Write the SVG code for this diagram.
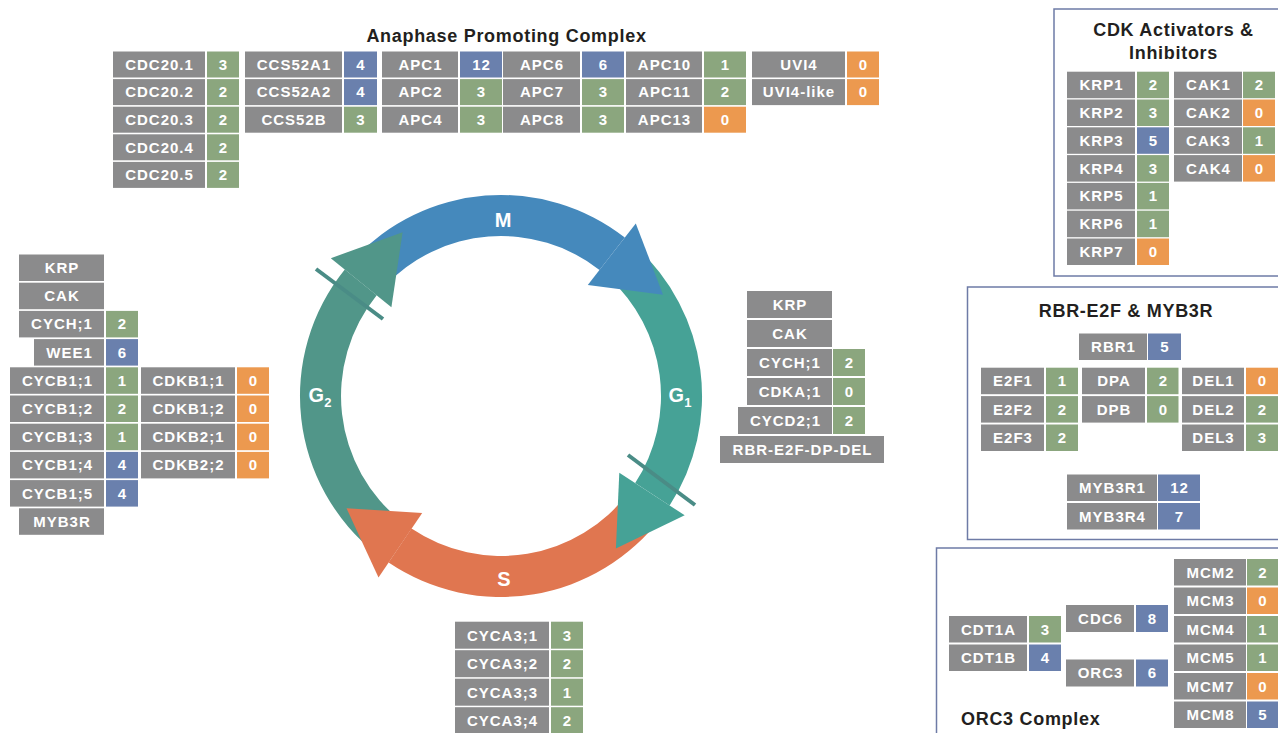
<svg xmlns="http://www.w3.org/2000/svg" width="1278" height="733" viewBox="0 0 1278 733">
<style>
.g{fill:#8b8b8c}.gn{fill:#8ba67e}.bl{fill:#6a80ad}.or{fill:#ec994f}
.t{font-family:"Liberation Sans",Arial,sans-serif;font-weight:bold;font-size:15px;letter-spacing:1px;fill:#fff;text-anchor:middle}
.h{font-family:"Liberation Sans",Arial,sans-serif;font-weight:bold;font-size:18px;letter-spacing:0.7px;fill:#231f20;text-anchor:middle}
.box{fill:none;stroke:#6e7ba6;stroke-width:1.5}
.ph{font-family:"Liberation Sans",Arial,sans-serif;font-weight:bold;font-size:20px;fill:#fff;text-anchor:middle}
.tick{stroke:#4a8c86;stroke-width:4}
</style>
<rect width="1278" height="733" fill="#fff"/>

<g id="cycle">
  <path d="M354.0,258.9 A201,201 0 0 1 624.8,237.6 L599.5,269.9 A160,160 0 0 0 384.0,286.9 Z" fill="#4589bc"/>
  <path d="M635.5,246.6 A201,201 0 0 1 669.6,505.5 L635.2,483.1 A160,160 0 0 0 608.1,277.1 Z" fill="#46a296"/>
  <path d="M661.5,517.0 A201,201 0 0 1 388.6,562.6 L411.5,528.6 A160,160 0 0 0 628.8,492.3 Z" fill="#e07650"/>
  <path d="M377.2,554.4 A201,201 0 0 1 344.8,269.5 L376.7,295.3 A160,160 0 0 0 402.5,522.1 Z" fill="#519689"/>
  <polygon points="587.8,284.9 635.8,223.4 663.0,294.8" fill="#4589bc"/>
  <polygon points="619.3,472.8 684.7,515.3 615.9,548.5" fill="#46a296"/>
  <polygon points="422.2,512.9 378.5,577.6 346.5,508.3" fill="#e07650"/>
  <polygon points="391.4,307.3 330.8,258.2 402.6,232.3" fill="#519689"/>
  <line class="tick" x1="628" y1="455" x2="695" y2="505"/>
  <line class="tick" x1="316" y1="269" x2="383" y2="319"/>
  <text class="ph" x="503" y="227">M</text>
  <text class="ph" x="504" y="586">S</text>
  <text class="ph" x="680" y="402">G<tspan font-size="13" dy="5">1</tspan></text>
  <text class="ph" x="320" y="402">G<tspan font-size="13" dy="5">2</tspan></text>
</g>

<g id="apc">
  <text class="h" x="506.5" y="41.5">Anaphase Promoting Complex</text>
  <g id="cdc20-1"><rect class="g" x="113" y="51.5" width="92" height="26"/><text class="t" x="159.5" y="69.8">CDC20.1</text><rect class="gn" x="207" y="51.5" width="32" height="26"/><text class="t" x="223.5" y="69.8">3</text></g>
  <g id="cdc20-2"><rect class="g" x="113" y="79.1" width="92" height="26"/><text class="t" x="159.5" y="97.4">CDC20.2</text><rect class="gn" x="207" y="79.1" width="32" height="26"/><text class="t" x="223.5" y="97.4">2</text></g>
  <g id="cdc20-3"><rect class="g" x="113" y="106.7" width="92" height="26"/><text class="t" x="159.5" y="125">CDC20.3</text><rect class="gn" x="207" y="106.7" width="32" height="26"/><text class="t" x="223.5" y="125">2</text></g>
  <g id="cdc20-4"><rect class="g" x="113" y="134.3" width="92" height="26"/><text class="t" x="159.5" y="152.6">CDC20.4</text><rect class="gn" x="207" y="134.3" width="32" height="26"/><text class="t" x="223.5" y="152.6">2</text></g>
  <g id="cdc20-5"><rect class="g" x="113" y="161.9" width="92" height="26"/><text class="t" x="159.5" y="180.2">CDC20.5</text><rect class="gn" x="207" y="161.9" width="32" height="26"/><text class="t" x="223.5" y="180.2">2</text></g>

  <g id="ccs52a1"><rect class="g" x="245" y="51.5" width="97" height="26"/><text class="t" x="294" y="69.8">CCS52A1</text><rect class="bl" x="344" y="51.5" width="33" height="26"/><text class="t" x="361" y="69.8">4</text></g>
  <g id="ccs52a2"><rect class="g" x="245" y="79.1" width="97" height="26"/><text class="t" x="294" y="97.4">CCS52A2</text><rect class="bl" x="344" y="79.1" width="33" height="26"/><text class="t" x="361" y="97.4">4</text></g>
  <g id="ccs52b"><rect class="g" x="245" y="106.7" width="97" height="26"/><text class="t" x="294" y="125">CCS52B</text><rect class="gn" x="344" y="106.7" width="33" height="26"/><text class="t" x="361" y="125">3</text></g>

  <g id="apc1"><rect class="g" x="382" y="51.5" width="76" height="26"/><text class="t" x="420.5" y="69.8">APC1</text><rect class="bl" x="460" y="51.5" width="42" height="26"/><text class="t" x="481.5" y="69.8">12</text></g>
  <g id="apc2"><rect class="g" x="382" y="79.1" width="76" height="26"/><text class="t" x="420.5" y="97.4">APC2</text><rect class="gn" x="460" y="79.1" width="42" height="26"/><text class="t" x="481.5" y="97.4">3</text></g>
  <g id="apc4"><rect class="g" x="382" y="106.7" width="76" height="26"/><text class="t" x="420.5" y="125">APC4</text><rect class="gn" x="460" y="106.7" width="42" height="26"/><text class="t" x="481.5" y="125">3</text></g>

  <g id="apc6"><rect class="g" x="503" y="51.5" width="77" height="26"/><text class="t" x="542" y="69.8">APC6</text><rect class="bl" x="582" y="51.5" width="42" height="26"/><text class="t" x="603.5" y="69.8">6</text></g>
  <g id="apc7"><rect class="g" x="503" y="79.1" width="77" height="26"/><text class="t" x="542" y="97.4">APC7</text><rect class="gn" x="582" y="79.1" width="42" height="26"/><text class="t" x="603.5" y="97.4">3</text></g>
  <g id="apc8"><rect class="g" x="503" y="106.7" width="77" height="26"/><text class="t" x="542" y="125">APC8</text><rect class="gn" x="582" y="106.7" width="42" height="26"/><text class="t" x="603.5" y="125">3</text></g>

  <g id="apc10"><rect class="g" x="626" y="51.5" width="76" height="26"/><text class="t" x="664.5" y="69.8">APC10</text><rect class="gn" x="704" y="51.5" width="42" height="26"/><text class="t" x="725.5" y="69.8">1</text></g>
  <g id="apc11"><rect class="g" x="626" y="79.1" width="76" height="26"/><text class="t" x="664.5" y="97.4">APC11</text><rect class="gn" x="704" y="79.1" width="42" height="26"/><text class="t" x="725.5" y="97.4">2</text></g>
  <g id="apc13"><rect class="g" x="626" y="106.7" width="76" height="26"/><text class="t" x="664.5" y="125">APC13</text><rect class="or" x="704" y="106.7" width="42" height="26"/><text class="t" x="725.5" y="125">0</text></g>

  <g id="uvi4"><rect class="g" x="752" y="51.5" width="93" height="26"/><text class="t" x="799" y="69.8">UVI4</text><rect class="or" x="847" y="51.5" width="32" height="26"/><text class="t" x="863.5" y="69.8">0</text></g>
  <g id="uvi4-like"><rect class="g" x="752" y="79.1" width="93" height="26"/><text class="t" x="799" y="97.4">UVI4-like</text><rect class="or" x="847" y="79.1" width="32" height="26"/><text class="t" x="863.5" y="97.4">0</text></g>
</g>

<g id="g2-factors">
  <g id="l-krp"><rect class="g" x="19" y="254.5" width="85" height="26.5"/><text class="t" x="62" y="273">KRP</text></g>
  <g id="l-cak"><rect class="g" x="19" y="282.7" width="85" height="26.5"/><text class="t" x="62" y="301.2">CAK</text></g>
  <g id="l-cych1"><rect class="g" x="19" y="310.9" width="85" height="26.5"/><text class="t" x="62" y="329.4">CYCH;1</text><rect class="gn" x="106" y="310.9" width="32" height="26.5"/><text class="t" x="122.5" y="329.4">2</text></g>
  <g id="l-wee1"><rect class="g" x="34" y="339.1" width="70" height="26.5"/><text class="t" x="69.5" y="357.6">WEE1</text><rect class="bl" x="106" y="339.1" width="32" height="26.5"/><text class="t" x="122.5" y="357.6">6</text></g>
  <g id="cycb1-1"><rect class="g" x="10" y="367.3" width="94" height="26.5"/><text class="t" x="57.5" y="385.8">CYCB1;1</text><rect class="gn" x="106" y="367.3" width="32" height="26.5"/><text class="t" x="122.5" y="385.8">1</text></g>
  <g id="cycb1-2"><rect class="g" x="10" y="395.5" width="94" height="26.5"/><text class="t" x="57.5" y="414">CYCB1;2</text><rect class="gn" x="106" y="395.5" width="32" height="26.5"/><text class="t" x="122.5" y="414">2</text></g>
  <g id="cycb1-3"><rect class="g" x="10" y="423.7" width="94" height="26.5"/><text class="t" x="57.5" y="442.2">CYCB1;3</text><rect class="gn" x="106" y="423.7" width="32" height="26.5"/><text class="t" x="122.5" y="442.2">1</text></g>
  <g id="cycb1-4"><rect class="g" x="10" y="451.9" width="94" height="26.5"/><text class="t" x="57.5" y="470.4">CYCB1;4</text><rect class="bl" x="106" y="451.9" width="32" height="26.5"/><text class="t" x="122.5" y="470.4">4</text></g>
  <g id="cycb1-5"><rect class="g" x="10" y="480.1" width="94" height="26.5"/><text class="t" x="57.5" y="498.6">CYCB1;5</text><rect class="bl" x="106" y="480.1" width="32" height="26.5"/><text class="t" x="122.5" y="498.6">4</text></g>
  <g id="l-myb3r"><rect class="g" x="19" y="508.3" width="85" height="26.5"/><text class="t" x="62" y="526.8">MYB3R</text></g>
  <g id="cdkb1-1"><rect class="g" x="141" y="367.3" width="94" height="26.5"/><text class="t" x="188.5" y="385.8">CDKB1;1</text><rect class="or" x="237" y="367.3" width="32" height="26.5"/><text class="t" x="253.5" y="385.8">0</text></g>
  <g id="cdkb1-2"><rect class="g" x="141" y="395.5" width="94" height="26.5"/><text class="t" x="188.5" y="414">CDKB1;2</text><rect class="or" x="237" y="395.5" width="32" height="26.5"/><text class="t" x="253.5" y="414">0</text></g>
  <g id="cdkb2-1"><rect class="g" x="141" y="423.7" width="94" height="26.5"/><text class="t" x="188.5" y="442.2">CDKB2;1</text><rect class="or" x="237" y="423.7" width="32" height="26.5"/><text class="t" x="253.5" y="442.2">0</text></g>
  <g id="cdkb2-2"><rect class="g" x="141" y="451.9" width="94" height="26.5"/><text class="t" x="188.5" y="470.4">CDKB2;2</text><rect class="or" x="237" y="451.9" width="32" height="26.5"/><text class="t" x="253.5" y="470.4">0</text></g>
</g>

<g id="g1-factors">
  <g id="r-krp"><rect class="g" x="747" y="291" width="85" height="27"/><text class="t" x="790" y="309.8">KRP</text></g>
  <g id="r-cak"><rect class="g" x="747" y="320" width="85" height="27"/><text class="t" x="790" y="338.8">CAK</text></g>
  <g id="r-cych1"><rect class="g" x="747" y="349" width="85" height="27"/><text class="t" x="790" y="367.8">CYCH;1</text><rect class="gn" x="833" y="349" width="32" height="27"/><text class="t" x="849.5" y="367.8">2</text></g>
  <g id="cdka1"><rect class="g" x="747" y="378" width="85" height="27"/><text class="t" x="790" y="396.8">CDKA;1</text><rect class="gn" x="833" y="378" width="32" height="27"/><text class="t" x="849.5" y="396.8">0</text></g>
  <g id="cycd2-1"><rect class="g" x="738" y="407" width="94" height="27"/><text class="t" x="785.5" y="425.8">CYCD2;1</text><rect class="gn" x="833" y="407" width="32" height="27"/><text class="t" x="849.5" y="425.8">2</text></g>
  <g id="rbr-e2f-dp-del"><rect class="g" x="720" y="436" width="164" height="27"/><text class="t" x="802.5" y="454.8">RBR-E2F-DP-DEL</text></g>
</g>

<g id="cdk-box">
  <rect class="box" x="1054" y="9" width="300" height="267"/>
  <text class="h" x="1173.5" y="35.7">CDK Activators &amp;</text>
  <text class="h" x="1173.5" y="59">Inhibitors</text>
  <g id="krp1"><rect class="g" x="1067" y="71.7" width="68" height="26.5"/><text class="t" x="1101.5" y="90.2">KRP1</text><rect class="gn" x="1137" y="71.7" width="32" height="26.5"/><text class="t" x="1153.5" y="90.2">2</text></g>
  <g id="krp2"><rect class="g" x="1067" y="99.5" width="68" height="26.5"/><text class="t" x="1101.5" y="118">KRP2</text><rect class="gn" x="1137" y="99.5" width="32" height="26.5"/><text class="t" x="1153.5" y="118">3</text></g>
  <g id="krp3"><rect class="g" x="1067" y="127.3" width="68" height="26.5"/><text class="t" x="1101.5" y="145.8">KRP3</text><rect class="bl" x="1137" y="127.3" width="32" height="26.5"/><text class="t" x="1153.5" y="145.8">5</text></g>
  <g id="krp4"><rect class="g" x="1067" y="155.1" width="68" height="26.5"/><text class="t" x="1101.5" y="173.6">KRP4</text><rect class="gn" x="1137" y="155.1" width="32" height="26.5"/><text class="t" x="1153.5" y="173.6">3</text></g>
  <g id="krp5"><rect class="g" x="1067" y="182.9" width="68" height="26.5"/><text class="t" x="1101.5" y="201.4">KRP5</text><rect class="gn" x="1137" y="182.9" width="32" height="26.5"/><text class="t" x="1153.5" y="201.4">1</text></g>
  <g id="krp6"><rect class="g" x="1067" y="210.7" width="68" height="26.5"/><text class="t" x="1101.5" y="229.2">KRP6</text><rect class="gn" x="1137" y="210.7" width="32" height="26.5"/><text class="t" x="1153.5" y="229.2">1</text></g>
  <g id="krp7"><rect class="g" x="1067" y="238.5" width="68" height="26.5"/><text class="t" x="1101.5" y="257">KRP7</text><rect class="or" x="1137" y="238.5" width="32" height="26.5"/><text class="t" x="1153.5" y="257">0</text></g>
  <g id="cak1"><rect class="g" x="1174" y="71.7" width="68" height="26.5"/><text class="t" x="1208.5" y="90.2">CAK1</text><rect class="gn" x="1243" y="71.7" width="32" height="26.5"/><text class="t" x="1259.5" y="90.2">2</text></g>
  <g id="cak2"><rect class="g" x="1174" y="99.5" width="68" height="26.5"/><text class="t" x="1208.5" y="118">CAK2</text><rect class="or" x="1243" y="99.5" width="32" height="26.5"/><text class="t" x="1259.5" y="118">0</text></g>
  <g id="cak3"><rect class="g" x="1174" y="127.3" width="68" height="26.5"/><text class="t" x="1208.5" y="145.8">CAK3</text><rect class="gn" x="1243" y="127.3" width="32" height="26.5"/><text class="t" x="1259.5" y="145.8">1</text></g>
  <g id="cak4"><rect class="g" x="1174" y="155.1" width="68" height="26.5"/><text class="t" x="1208.5" y="173.6">CAK4</text><rect class="or" x="1243" y="155.1" width="32" height="26.5"/><text class="t" x="1259.5" y="173.6">0</text></g>
</g>

<g id="rbr-box">
  <rect class="box" x="967.5" y="287" width="400" height="252.5"/>
  <text class="h" x="1126" y="316.7">RBR-E2F &amp; MYB3R</text>
  <g id="rbr1"><rect class="g" x="1079" y="333.5" width="68" height="26.5"/><text class="t" x="1113.5" y="352">RBR1</text><rect class="bl" x="1148" y="333.5" width="33" height="26.5"/><text class="t" x="1165" y="352">5</text></g>
  <g id="e2f1"><rect class="g" x="981" y="367.7" width="63" height="26.5"/><text class="t" x="1013" y="386.2">E2F1</text><rect class="gn" x="1046" y="367.7" width="32" height="26.5"/><text class="t" x="1062.5" y="386.2">1</text></g>
  <g id="e2f2"><rect class="g" x="981" y="396.1" width="63" height="26.5"/><text class="t" x="1013" y="414.6">E2F2</text><rect class="gn" x="1046" y="396.1" width="32" height="26.5"/><text class="t" x="1062.5" y="414.6">2</text></g>
  <g id="e2f3"><rect class="g" x="981" y="424.5" width="63" height="26.5"/><text class="t" x="1013" y="443">E2F3</text><rect class="gn" x="1046" y="424.5" width="32" height="26.5"/><text class="t" x="1062.5" y="443">2</text></g>
  <g id="dpa"><rect class="g" x="1082" y="367.7" width="63" height="26.5"/><text class="t" x="1114" y="386.2">DPA</text><rect class="gn" x="1147" y="367.7" width="31.5" height="26.5"/><text class="t" x="1163.3" y="386.2">2</text></g>
  <g id="dpb"><rect class="g" x="1082" y="396.1" width="63" height="26.5"/><text class="t" x="1114" y="414.6">DPB</text><rect class="gn" x="1147" y="396.1" width="31.5" height="26.5"/><text class="t" x="1163.3" y="414.6">0</text></g>
  <g id="del1"><rect class="g" x="1182" y="367.7" width="62" height="26.5"/><text class="t" x="1213.5" y="386.2">DEL1</text><rect class="or" x="1246" y="367.7" width="32" height="26.5"/><text class="t" x="1262.5" y="386.2">0</text></g>
  <g id="del2"><rect class="g" x="1182" y="396.1" width="62" height="26.5"/><text class="t" x="1213.5" y="414.6">DEL2</text><rect class="gn" x="1246" y="396.1" width="32" height="26.5"/><text class="t" x="1262.5" y="414.6">2</text></g>
  <g id="del3"><rect class="g" x="1182" y="424.5" width="62" height="26.5"/><text class="t" x="1213.5" y="443">DEL3</text><rect class="gn" x="1246" y="424.5" width="32" height="26.5"/><text class="t" x="1262.5" y="443">3</text></g>
  <g id="myb3r1"><rect class="g" x="1067" y="474.5" width="90" height="26.5"/><text class="t" x="1112.5" y="493">MYB3R1</text><rect class="bl" x="1158" y="474.5" width="42" height="26.5"/><text class="t" x="1179.5" y="493">12</text></g>
  <g id="myb3r4"><rect class="g" x="1067" y="503" width="90" height="26.5"/><text class="t" x="1112.5" y="521.5">MYB3R4</text><rect class="bl" x="1158" y="503" width="42" height="26.5"/><text class="t" x="1179.5" y="521.5">7</text></g>
</g>

<g id="orc-box">
  <rect class="box" x="936.5" y="548" width="400" height="300"/>
  <text class="h" x="961" y="725" style="text-anchor:start">ORC3 Complex</text>
  <g id="mcm2"><rect class="g" x="1174" y="559" width="72" height="26.5"/><text class="t" x="1210.5" y="577.5">MCM2</text><rect class="gn" x="1247" y="559" width="31" height="26.5"/><text class="t" x="1263" y="577.5">2</text></g>
  <g id="mcm3"><rect class="g" x="1174" y="587.5" width="72" height="26.5"/><text class="t" x="1210.5" y="606">MCM3</text><rect class="or" x="1247" y="587.5" width="31" height="26.5"/><text class="t" x="1263" y="606">0</text></g>
  <g id="mcm4"><rect class="g" x="1174" y="616" width="72" height="26.5"/><text class="t" x="1210.5" y="634.5">MCM4</text><rect class="gn" x="1247" y="616" width="31" height="26.5"/><text class="t" x="1263" y="634.5">1</text></g>
  <g id="mcm5"><rect class="g" x="1174" y="644.5" width="72" height="26.5"/><text class="t" x="1210.5" y="663">MCM5</text><rect class="gn" x="1247" y="644.5" width="31" height="26.5"/><text class="t" x="1263" y="663">1</text></g>
  <g id="mcm7"><rect class="g" x="1174" y="673" width="72" height="26.5"/><text class="t" x="1210.5" y="691.5">MCM7</text><rect class="or" x="1247" y="673" width="31" height="26.5"/><text class="t" x="1263" y="691.5">0</text></g>
  <g id="mcm8"><rect class="g" x="1174" y="701.5" width="72" height="26.5"/><text class="t" x="1210.5" y="720">MCM8</text><rect class="bl" x="1247" y="701.5" width="31" height="26.5"/><text class="t" x="1263" y="720">5</text></g>
  <g id="cdt1a"><rect class="g" x="949" y="616" width="78" height="26.5"/><text class="t" x="988.5" y="634.5">CDT1A</text><rect class="gn" x="1029" y="616" width="32" height="26.5"/><text class="t" x="1045.5" y="634.5">3</text></g>
  <g id="cdt1b"><rect class="g" x="949" y="644.5" width="78" height="26.5"/><text class="t" x="988.5" y="663">CDT1B</text><rect class="bl" x="1029" y="644.5" width="32" height="26.5"/><text class="t" x="1045.5" y="663">4</text></g>
  <g id="cdc6"><rect class="g" x="1066" y="605" width="68" height="27"/><text class="t" x="1100.5" y="623.8">CDC6</text><rect class="bl" x="1136" y="605" width="32" height="27"/><text class="t" x="1152.5" y="623.8">8</text></g>
  <g id="orc3"><rect class="g" x="1066" y="659.5" width="68" height="27"/><text class="t" x="1100.5" y="678.3">ORC3</text><rect class="bl" x="1136" y="659.5" width="32" height="27"/><text class="t" x="1152.5" y="678.3">6</text></g>
</g>

<g id="s-factors">
  <g id="cyca3-1"><rect class="g" x="455" y="621.7" width="94" height="27"/><text class="t" x="502.5" y="640.5">CYCA3;1</text><rect class="gn" x="551" y="621.7" width="32" height="27"/><text class="t" x="567.5" y="640.5">3</text></g>
  <g id="cyca3-2"><rect class="g" x="455" y="650.2" width="94" height="27"/><text class="t" x="502.5" y="669">CYCA3;2</text><rect class="gn" x="551" y="650.2" width="32" height="27"/><text class="t" x="567.5" y="669">2</text></g>
  <g id="cyca3-3"><rect class="g" x="455" y="678.7" width="94" height="27"/><text class="t" x="502.5" y="697.5">CYCA3;3</text><rect class="gn" x="551" y="678.7" width="32" height="27"/><text class="t" x="567.5" y="697.5">1</text></g>
  <g id="cyca3-4"><rect class="g" x="455" y="707.2" width="94" height="27"/><text class="t" x="502.5" y="726">CYCA3;4</text><rect class="gn" x="551" y="707.2" width="32" height="27"/><text class="t" x="567.5" y="726">2</text></g>
</g>
</svg>
